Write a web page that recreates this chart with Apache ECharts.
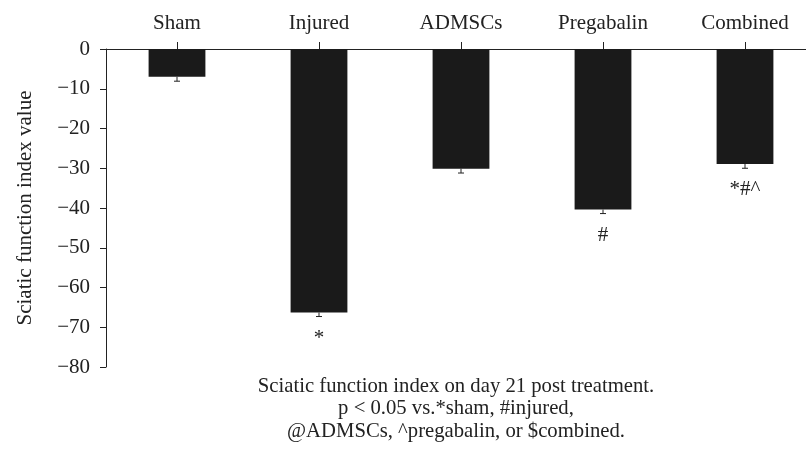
<!DOCTYPE html>
<html>
<head>
<meta charset="utf-8">
<script src="https://cdn.jsdelivr.net/npm/echarts@6/dist/echarts.min.js"></script>
<style>html,body{margin:0;padding:0;background:#fff;}#chart{width:806px;height:451px;}</style>
</head>
<body>
<div id="chart"></div>
<script>
const categories = ['Sham', 'Injured', 'ADMSCs', 'Pregabalin', 'Combined'];
const sfiValues = [-7.0, -66.3, -30.1, -40.4, -28.9];
const sfiErrors = [1.1, 1.0, 1.1, 1.0, 1.1];
const annotations = ['', '*', '', '#', '*#^'];
const yTicks = [0, -10, -20, -30, -40, -50, -60, -70, -80];
const yAxisTitle = 'Sciatic function index value';
const caption = 'Sciatic function index on day 21 post treatment.\np < 0.05 vs.*sham, #injured,\n@ADMSCs, ^pregabalin, or $combined.';

const FONT = 'Liberation Serif';
const chart = echarts.init(document.getElementById('chart'), null, {renderer: 'canvas'});

const errData = categories.map((c, i) => [i, sfiValues[i], sfiErrors[i], annotations[i]]);

chart.setOption({
  animation: false,
  backgroundColor: '#fff',
  textStyle: {fontFamily: FONT},
  title: {
    text: caption,
    left: 451,
    top: 370,
    textAlign: 'center',
    textStyle: {fontFamily: FONT, fontSize: 20.7, fontWeight: 'normal', color: '#222', lineHeight: 22.5}
  },
  grid: {left: 106, width: 710, top: 49, bottom: 84, containLabel: false, outerBoundsMode: 'none'},
  xAxis: {
    type: 'category',
    data: categories,
    position: 'top',
    axisLine: {onZero: true, lineStyle: {color: '#222', width: 1}},
    axisTick: {show: true, alignWithLabel: true, length: 7, lineStyle: {color: '#222'}},
    axisLabel: {fontFamily: FONT, fontSize: 21, color: '#222', margin: 15}
  },
  yAxis: {
    type: 'value',
    min: -80,
    max: 0,
    interval: 10,
    name: yAxisTitle,
    nameLocation: 'middle',
    nameGap: 70,
    nameTextStyle: {fontFamily: FONT, fontSize: 21, color: '#222'},
    axisLine: {show: true, lineStyle: {color: '#222', width: 1}},
    axisTick: {show: true, length: 6, lineStyle: {color: '#222'}},
    splitLine: {show: false},
    axisLabel: {
      fontFamily: FONT, fontSize: 21, color: '#222', margin: 16,
      formatter: v => (yTicks.indexOf(v) >= 0 ? (v < 0 ? '\u2212' + Math.abs(v) : String(v)) : '')
    }
  },
  series: [
    {
      type: 'bar',
      data: sfiValues,
      barWidth: '40%',
      itemStyle: {color: '#1a1a1a'},
      z: 2
    },
    {
      type: 'custom',
      data: errData,
      z: 3,
      renderItem: function (params, api) {
        const x = api.value(0);
        const v = api.value(1);
        const e = api.value(2);
        const p0 = api.coord([x, v]);
        const p1 = api.coord([x, v - e]);
        const cap = 3;
        const children = [
          {type: 'line', shape: {x1: p0[0], y1: p0[1], x2: p1[0], y2: p1[1]}, style: {stroke: '#222', lineWidth: 1}},
          {type: 'line', shape: {x1: p1[0] - cap, y1: p1[1], x2: p1[0] + cap, y2: p1[1]}, style: {stroke: '#222', lineWidth: 1}}
        ];
        const ann = errData[params.dataIndex][3];
        if (ann) {
          children.push({
            type: 'text',
            style: {text: ann, x: p1[0], y: p1[1] + 11, align: 'center', verticalAlign: 'top',
                    font: '21px "' + FONT + '"', fill: '#222'}
          });
        }
        return {type: 'group', children: children};
      }
    }
  ]
});
</script>
</body>
</html>
